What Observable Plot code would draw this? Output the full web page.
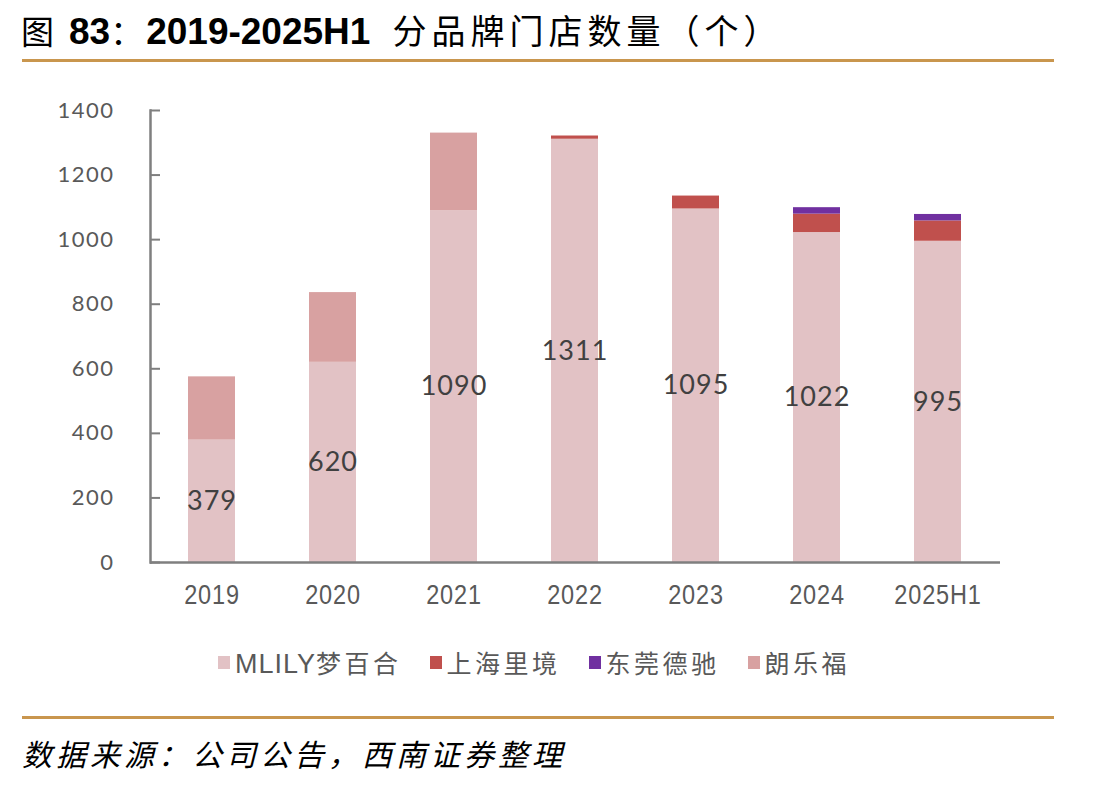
<!DOCTYPE html>
<html>
<head>
<meta charset="utf-8">
<script src="https://cdn.jsdelivr.net/npm/d3@7"></script>
<script src="https://cdn.jsdelivr.net/npm/@observablehq/plot@0.6"></script>
<style>
  body { margin: 0; background: #fff; width: 1119px; height: 787px; position: relative; overflow: hidden; font-family: "Noto Sans CJK SC", sans-serif; }
  #title { position: absolute; left: 21px; top: 5px; font-size: 33px; color: #000; white-space: nowrap; letter-spacing: 3px; }
  #title .num { font-family: "Liberation Sans Narrow", "Liberation Sans", sans-serif; font-weight: bold; font-size: 37px; letter-spacing: 0; }
  #title .n1 { margin-left: 12px; }
  #title .cn { margin-left: 22px; letter-spacing: 5px; font-size: 34px; }
  .gold { position: absolute; left: 22px; width: 1032px; height: 3px; background: #C9964E; }
  #chart { position: absolute; left: 0; top: 90px; }
  #legend { position: absolute; left: 218px; top: 644px; display: flex; align-items: center; font-size: 25px; color: #595959; white-space: nowrap; }
  #legend .item { display: flex; align-items: center; margin-right: 28px; }
  #legend .sw { width: 12px; height: 13px; margin-right: 5px; }
  #legend .lt { letter-spacing: 3.5px; }
  #legend .lt .lat { font-family: "Liberation Sans Narrow", "Liberation Sans", sans-serif; font-size: 27px; letter-spacing: 1px; }
  #caption { position: absolute; left: 22px; top: 731px; font-size: 30px; font-style: italic; letter-spacing: 4px; color: #000; white-space: nowrap; }
  .chart g[aria-label="y-axis tick label"] text { letter-spacing: 1.5px; }
  .chart g[aria-label="x-axis tick label"] text { letter-spacing: 1px; }
  .chart g[aria-label="text"] text { letter-spacing: 1px; }
</style>
</head>
<body>
<div id="title">图<span class="num n1">83</span>：<span class="num">2019-2025H1</span><span class="cn">分品牌门店数量（个）</span></div>
<div class="gold" style="top:59px"></div>
<div id="chart"></div>
<div id="legend"></div>
<div class="gold" style="top:716px"></div>
<div id="caption">数据来源：公司公告，西南证券整理</div>
<script>
const years = ["2019", "2020", "2021", "2022", "2023", "2024", "2025H1"];
const brands = ["MLILY梦百合", "上海里境", "东莞德驰", "朗乐福"];
const mlily = [379, 620, 1090, 1311, 1095, 1022, 995];
const shanghai = [0, 0, 0, 10, 40, 57, 63];
const dongguan = [0, 0, 0, 0, 0, 20, 20];
const langlefu = [196, 216, 240, 0, 0, 0, 0];
const colors = ["#E2C2C5", "#C0504D", "#7030A0", "#D8A1A1"];
const yTicks = [0, 200, 400, 600, 800, 1000, 1200, 1400];

const series = [mlily, shanghai, dongguan, langlefu];
const data = years.flatMap((yr, i) => brands.map((b, j) => ({year: yr, brand: b, value: series[j][i]})));
const labels = years.map((yr, i) => ({year: yr, v: mlily[i]}));

const axisColor = "#7F7F7F";
const chart = Plot.plot({
  className: "chart",
  width: 1040,
  height: 532,
  marginTop: 20,
  marginBottom: 60,
  marginLeft: 150,
  marginRight: 40,
  style: {background: "transparent"},
  x: {domain: years, paddingInner: 0.61, paddingOuter: 0.305, label: null},
  y: {domain: [0, 1400], label: null},
  color: {domain: brands, range: colors},
  marks: [
    Plot.barY(data, {x: "year", y: "value", fill: "brand", order: brands}),
    Plot.text(labels, {x: "year", y: d => d.v / 2, text: d => String(d.v), fontSize: 27, fontFamily: "Lato, 'Open Sans', sans-serif", fill: "#404040"}),
    Plot.axisY({ticks: yTicks, tickSize: 0, tickPadding: 36, tickFormat: d => String(d), fontSize: 22, fontFamily: "Lato, 'Liberation Sans', sans-serif", color: "#595959", label: null}),
    Plot.axisX({tickSize: 0, tickPadding: 22, fontSize: 28, fontFamily: "'Liberation Sans Narrow', 'Liberation Sans', sans-serif", color: "#595959", label: null}),
    Plot.tickY(yTicks, {y: d => d, insetRight: 840, stroke: axisColor, strokeWidth: 2}),
    Plot.ruleY([0], {stroke: axisColor, strokeWidth: 2.5}),
    Plot.frame({anchor: "left", stroke: axisColor, strokeWidth: 2.5})
  ]
});
// narrow the x tick labels (reference uses a condensed face)
d3.select(chart).selectAll('g[aria-label="x-axis tick label"] text').each(function() {
  const t = this.getAttribute("transform") || "";
  this.setAttribute("transform", t + " scale(0.84,1)");
});
document.getElementById("chart").appendChild(chart);

const legend = document.getElementById("legend");
brands.forEach((b, j) => {
  const item = document.createElement("div");
  item.className = "item";
  const sw = document.createElement("div");
  sw.className = "sw";
  sw.style.background = colors[j];
  const lt = document.createElement("span");
  lt.className = "lt";
  const m = b.match(/^([A-Za-z]+)(.*)$/);
  if (m) {
    const lat = document.createElement("span");
    lat.className = "lat";
    lat.textContent = m[1];
    lt.appendChild(lat);
    lt.appendChild(document.createTextNode(m[2]));
  } else {
    lt.textContent = b;
  }
  item.appendChild(sw);
  item.appendChild(lt);
  legend.appendChild(item);
});
</script>
</body>
</html>
